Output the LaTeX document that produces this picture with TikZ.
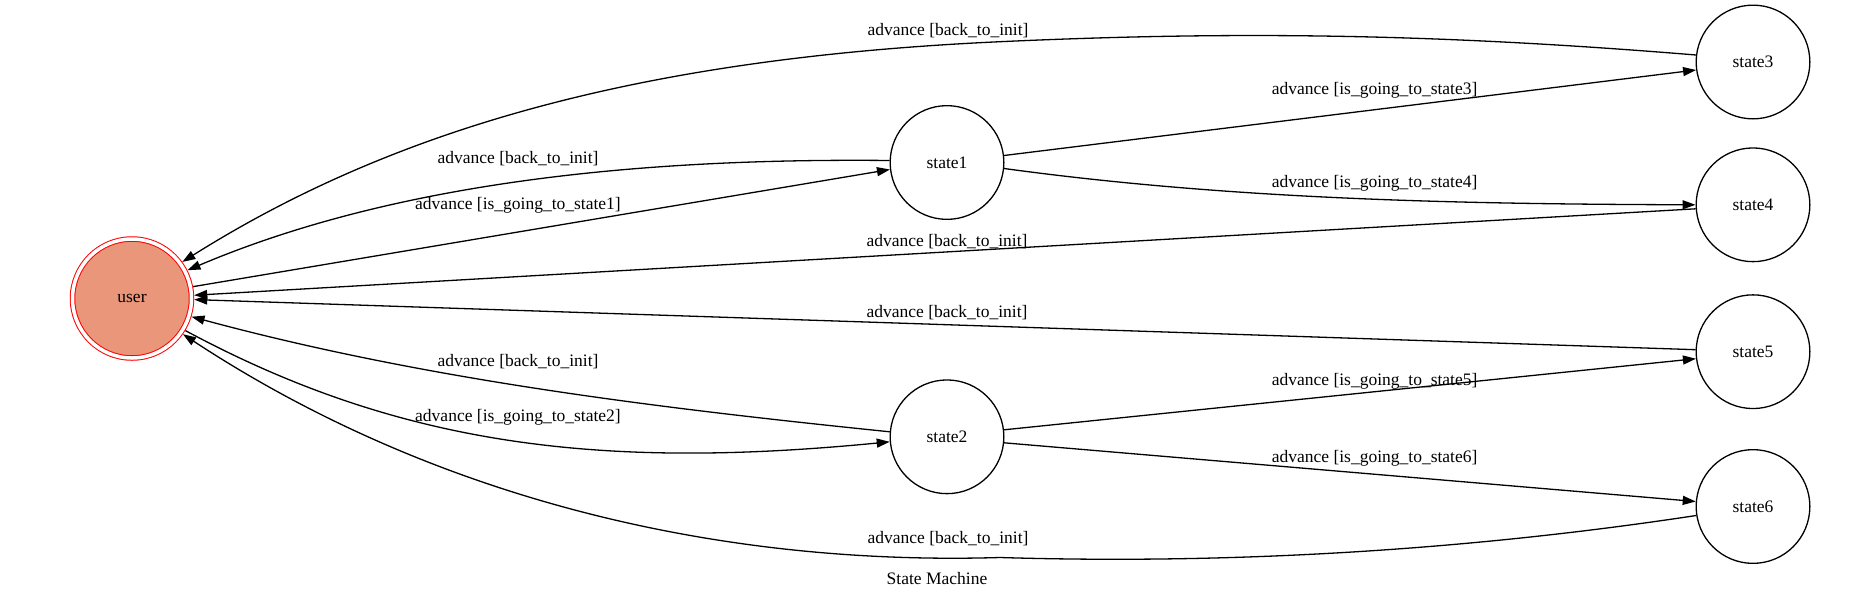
\documentclass[tikz,border=0pt]{standalone}
\usepackage{fontspec}
\setmainfont{Liberation Serif}
\usepackage{xcolor}
\usepackage{tikz}
\usetikzlibrary{arrows.meta}
\definecolor{darksalmon}{HTML}{E9967A}
\tikzset{state/.style={
    circle, draw, line width=1.3pt,
    minimum size=113.7pt, inner sep=0pt,
    font=\fontsize{17.5}{21}\selectfont
  },
  initstate/.style={
    circle, draw=red, fill=darksalmon, line width=1pt,
    double=white, double distance=3.5pt,
    minimum size=119pt, inner sep=0pt, outer sep=2.75pt,
    font=\fontsize{17.5}{21}\selectfont
  },
  trans/.style={
    line width=1.3pt, -{Triangle[length=13pt,width=9pt]}
  },
  lbl/.style={
    inner sep=0pt, font=\fontsize{17.5}{21}\selectfont
  }
}

\begin{document}
\begin{tikzpicture}[x=1pt,y=-1pt]
      \useasboundingbox (0,0) rectangle (1873,600);
      \node[initstate] (user) at (132,298.5) {user};
      \node[state] (state1) at (947,162.5) {state1};
      \node[state] (state2) at (947,436.8) {state2};
      \node[state] (state3) at (1753,62) {state3};
      \node[state] (state4) at (1753,204.8) {state4};
      \node[state] (state5) at (1753,351.7) {state5};
      \node[state] (state6) at (1753,506.5) {state6};
      \coordinate (topmid) at (1000,41.7);
      \coordinate (botmid) at (1000,557.5);
      \draw[trans] (state3.173) .. controls (1440,34) and (1240,30.7) .. (topmid)
      .. controls (650,57.8) and (400,125) .. (user.36);
      \draw[trans] (state1.178) .. controls (650,158) and (400,180) .. (user.27);
      \draw[trans] (user.11) -- (state1.187);
      \draw[trans] (state1.7) -- (state3.188);
      \draw[trans] (state1.-6) .. controls (1234.5,200) and (1466,204) .. (state4.180);
      \draw[trans] (state4.184.5) -- (user.3);
      \draw[trans] (state5.178) -- (user.-1);
      \draw[trans] (state2.175) .. controls (657.7,408) and (424.7,379.7) .. (user.-17);
      \draw[trans] (user.-31) .. controls (400,446) and (600,470) .. (state2.185);
      \draw[trans] (state2.7) -- (state5.187);
      \draw[trans] (state2.-6.5) -- (state6.175);
      \draw[trans] (state6.189.5) .. controls (1466,550.5) and (1230,564.5) .. (botmid)
      .. controls (700,566.5) and (420,490) .. (user.-35);
      \node[lbl] (lbltop) at (948,31) {advance [back\_to\_init]};
      \node[lbl] (lbloneback) at (518,158.3) {advance [back\_to\_init]};
      \node[lbl] (lbltoone) at (518,205.3) {advance [is\_going\_to\_state1]};
      \node[lbl] (lbltothree) at (1374.6,90) {advance [is\_going\_to\_state3]};
      \node[lbl] (lbltofour) at (1374.6,183.3) {advance [is\_going\_to\_state4]};
      \node[lbl] (lblfourback) at (947,241.3) {advance [back\_to\_init]};
      \node[lbl] (lblfiveback) at (947,313) {advance [back\_to\_init]};
      \node[lbl] (lbltwoback) at (518,361.7) {advance [back\_to\_init]};
      \node[lbl] (lbltotwo) at (518,417.3) {advance [is\_going\_to\_state2]};
      \node[lbl] (lbltofive) at (1374.6,381.7) {advance [is\_going\_to\_state5]};
      \node[lbl] (lbltosix) at (1374.6,458.3) {advance [is\_going\_to\_state6]};
      \node[lbl] (lblsixback) at (948,538.3) {advance [back\_to\_init]};
      \node[lbl] (title) at (937,578.3) {State Machine};
    \end{tikzpicture}
\end{document}
